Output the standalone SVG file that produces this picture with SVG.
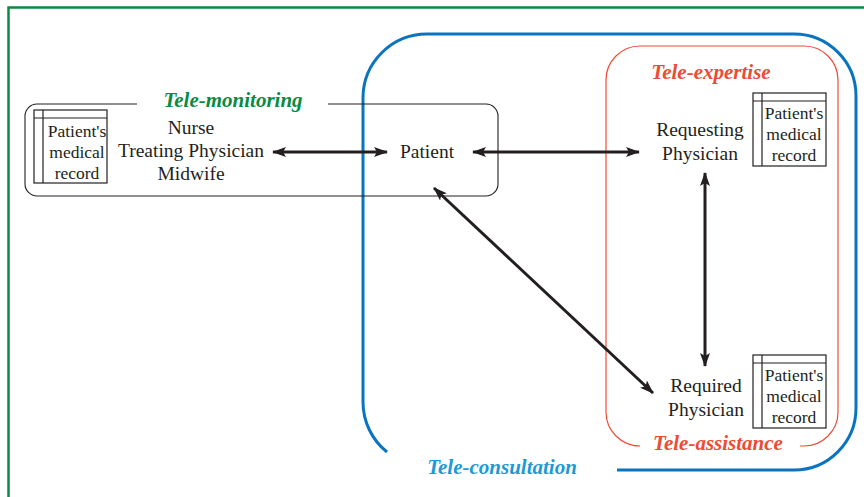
<svg xmlns="http://www.w3.org/2000/svg" width="864" height="497" viewBox="0 0 864 497">
<style>
.t{font-family:"Liberation Serif","Times New Roman",serif;font-size:19.5px;fill:#231f20;text-anchor:middle}
.r{font-family:"Liberation Serif","Times New Roman",serif;font-size:17.5px;fill:#231f20;text-anchor:middle}
.lab{font-family:"Liberation Serif","Times New Roman",serif;font-size:21px;font-weight:bold;font-style:italic;text-anchor:middle}
.ln{fill:none;stroke:#231f20;stroke-width:1.2}
.ar{stroke:#231f20;stroke-width:3;fill:none;marker-start:url(#ah);marker-end:url(#ah)}
</style>
<defs>
<marker id="ah" viewBox="0 0 14 10" refX="13" refY="5" markerWidth="14" markerHeight="10" markerUnits="userSpaceOnUse" orient="auto-start-reverse">
<path d="M0,0 L14,5 L0,10 L3,5 Z" fill="#231f20"/>
</marker>
<g id="rec">
<rect x="0" y="0" width="73" height="73" class="ln"/>
<line x1="0" y1="8" x2="73" y2="8" class="ln"/>
<line x1="9" y1="0" x2="9" y2="73" class="ln"/>
</g>
</defs>
<rect width="864" height="497" fill="#fff"/>
<g id="frame">
<path d="M8.5,497 V7.5 H864" fill="none" stroke="#0b8a44" stroke-width="2.5"/>
</g>
<g id="tele-consultation">
<path d="M387,452 A64,64 0 0 1 363,402 V98 A64,64 0 0 1 427,34 H794 A62,62 0 0 1 856,96 V408 A62,62 0 0 1 794,470 H617" fill="none" stroke="#0a74bf" stroke-width="3"/>
<text x="502" y="474" class="lab" fill="#1b9ad7">Tele-consultation</text>
</g>
<g id="tele-expertise">
<path d="M634,446 H640 A34,34 0 0 1 606,412 V80 A34,34 0 0 1 640,46 H804 A34,34 0 0 1 838,80 V412 A34,34 0 0 1 804,446 H800" fill="none" stroke="#ee4b35" stroke-width="1.2"/>
<text x="711" y="79" class="lab" fill="#ee4b35">Tele-expertise</text>
<text x="718" y="450" class="lab" fill="#ee4b35">Tele-assistance</text>
</g>
<g id="tele-monitoring">
<path d="M137,104 H37 A12,12 0 0 0 25,116 V184 A12,12 0 0 0 37,196 H486 A12,12 0 0 0 498,184 V116 A12,12 0 0 0 486,104 H328" fill="none" stroke="#231f20" stroke-width="1.1"/>
<text x="233" y="107" class="lab" fill="#0b8a44">Tele-monitoring</text>
</g>
<g id="local-actors">
<use href="#rec" x="34" y="110"/>
<text x="77" y="137" class="r">Patient's</text>
<text x="77" y="158" class="r">medical</text>
<text x="77" y="179" class="r">record</text>
<text x="191" y="134" class="t">Nurse</text>
<text x="191" y="157" class="t">Treating Physician</text>
<text x="191" y="180" class="t">Midwife</text>
</g>
<g id="patient">
<text x="427" y="158" class="t">Patient</text>
</g>
<g id="requesting-physician">
<text x="700" y="136" class="t">Requesting</text>
<text x="700" y="160" class="t">Physician</text>
<use href="#rec" x="753" y="93"/>
<text x="794" y="119" class="r">Patient's</text>
<text x="794" y="140" class="r">medical</text>
<text x="794" y="161" class="r">record</text>
</g>
<g id="required-physician">
<text x="706" y="392" class="t">Required</text>
<text x="706" y="416" class="t">Physician</text>
<use href="#rec" x="753" y="355"/>
<text x="794" y="381" class="r">Patient's</text>
<text x="794" y="402" class="r">medical</text>
<text x="794" y="423" class="r">record</text>
</g>
<g id="connectors">
<line x1="273" y1="152" x2="387" y2="152" class="ar"/>
<line x1="473" y1="152" x2="639" y2="152" class="ar"/>
<line x1="705" y1="173" x2="705" y2="366" class="ar"/>
<line x1="434" y1="188" x2="653" y2="393" class="ar"/>
</g>
</svg>
